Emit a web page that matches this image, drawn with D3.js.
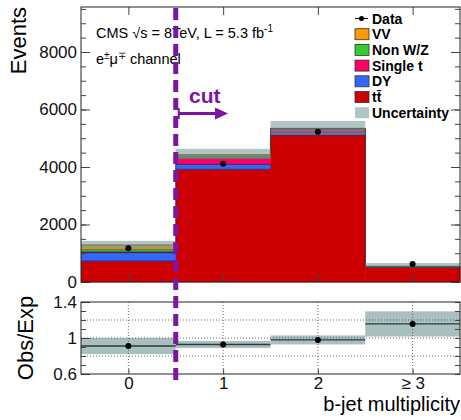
<!DOCTYPE html>
<html>
<head>
<meta charset="utf-8">
<script src="https://cdn.jsdelivr.net/npm/d3@7"></script>
<style>
  body { margin: 0; background: #fff; }
  svg { font-family: "Liberation Sans", Arial, Helvetica, sans-serif; }
</style>
</head>
<body>
<script>
  'use strict';

  // bins and stacked predictions (bottom to top)
  var bins = [0, 1, 2, 3];
  var binLabels = ['0', '1', '2', '\u2265 3'];
  var ttbar = [730, 3920, 5115, 505];
  var dy = [290, 170, 80, 12];
  var singleTop = [25, 220, 120, 22];
  var nonWZ = [75, 70, 20, 4];
  var diboson = [170, 50, 10, 2];
  var dataCounts = [1175, 4110, 5230, 630];
  var uncUp = [140, 200, 255, 115];
  var uncDown = [170, 150, 230, 40];
  var ratioErr = [0.09, 0.04, 0.05, 0.14];

  var yTicksMain = [0, 2000, 4000, 6000, 8000];
  var yTicksRatio = [0.6, 1, 1.4];
  var ratioGrid = [0.8, 1.0, 1.2];

  var layers = [
    {label: 'tt\u0304', values: ttbar, color: '#cc0000'},
    {label: 'DY', values: dy, color: '#3366ff'},
    {label: 'Single t', values: singleTop, color: '#ff0066'},
    {label: 'Non W/Z', values: nonWZ, color: '#33cc33'},
    {label: 'VV', values: diboson, color: '#ff9900'}
  ];

  var W = 461, H = 420;
  var left = 81, right = 460;
  var mainTop = 7, mainBottom = 282;
  var ratioTop = 302, ratioBottom = 374;
  var cutColor = '#7a16a0';
  var bandColor = '#6f9595';

  var svg = d3.select('body').append('svg').attr('width', W).attr('height', H);

  var x = d3.scaleLinear().domain([-0.5, 3.5]).range([left, right]);
  var y = d3.scaleLinear().domain([0, 9565]).range([mainBottom, mainTop]);
  var yr = d3.scaleLinear().domain([0.6, 1.4]).range([ratioBottom, ratioTop]);
  var bw = x(1) - x(0);

  // stack
  var totals = bins.map(function(b) {
    return d3.sum(layers, function(l) { return l.values[b]; });
  });
  var stacked = [];
  bins.forEach(function(b) {
    var base = 0;
    layers.forEach(function(l) {
      stacked.push({bin: b, y0: base, y1: base + l.values[b], color: l.color});
      base += l.values[b];
    });
  });

  var main = svg.append('g');
  // widths rounded up a little so neighbouring bins do not leave a seam
  main.selectAll('rect.stack').data(stacked).enter().append('rect')
    .attr('class', 'stack')
    .attr('x', function(d) { return x(d.bin - 0.5); })
    .attr('width', bw + 0.5)
    .attr('y', function(d) { return y(d.y1); })
    .attr('height', function(d) { return y(d.y0) - y(d.y1) + 0.3; })
    .attr('fill', function(d) { return d.color; });
  // thin edges on top of every layer
  main.selectAll('line.edge').data(stacked).enter().append('line')
    .attr('x1', function(d) { return x(d.bin - 0.5); })
    .attr('x2', function(d) { return x(d.bin + 0.5); })
    .attr('y1', function(d) { return y(d.y1); })
    .attr('y2', function(d) { return y(d.y1); })
    .attr('stroke', '#222').attr('stroke-width', 0.7);
  // outline steps between bins
  main.selectAll('line.step').data(bins.slice(1)).enter().append('line')
    .attr('x1', function(b) { return x(b - 0.5); })
    .attr('x2', function(b) { return x(b - 0.5); })
    .attr('y1', function(b) { return y(totals[b - 1]); })
    .attr('y2', function(b) { return y(totals[b]); })
    .attr('stroke', '#222').attr('stroke-width', 0.8);

  // uncertainty band on top of the stack
  main.selectAll('rect.unc').data(bins).enter().append('rect')
    .attr('class', 'unc')
    .attr('x', function(b) { return x(b - 0.5); })
    .attr('width', bw)
    .attr('y', function(b) { return y(totals[b] + uncUp[b]); })
    .attr('height', function(b) { return y(totals[b] - uncDown[b]) - y(totals[b] + uncUp[b]); })
    .attr('fill', bandColor)
    .attr('fill-opacity', 0.55);

  main.selectAll('circle.data').data(bins).enter().append('circle')
    .attr('cx', function(b) { return x(b); })
    .attr('cy', function(b) { return y(dataCounts[b]); })
    .attr('r', 3)
    .attr('fill', '#000');

  // main frame and ticks (ROOT style, ticks inside)
  var frameMain = svg.append('g');
  frameMain.append('g')
    .attr('transform', 'translate(' + left + ',0)')
    .call(d3.axisLeft(y).tickValues(d3.range(0, 9501, 500)).tickSize(-5).tickFormat(''));
  frameMain.append('g')
    .attr('transform', 'translate(' + left + ',0)')
    .call(d3.axisLeft(y).tickValues(yTicksMain).tickSizeInner(-9).tickSizeOuter(0).tickPadding(4)
      .tickFormat(d3.format('d')));
  frameMain.append('g')
    .attr('transform', 'translate(' + right + ',0)')
    .call(d3.axisRight(y).tickValues(d3.range(0, 9501, 500)).tickSize(-5).tickFormat(''));
  frameMain.append('g')
    .attr('transform', 'translate(' + right + ',0)')
    .call(d3.axisRight(y).tickValues(yTicksMain).tickSize(-9).tickFormat(''));
  frameMain.append('g')
    .attr('transform', 'translate(0,' + mainBottom + ')')
    .call(d3.axisBottom(x).tickValues(bins).tickSize(-8).tickFormat(''));
  frameMain.append('g')
    .attr('transform', 'translate(0,' + mainTop + ')')
    .call(d3.axisTop(x).tickValues(bins).tickSize(-8).tickFormat(''));
  frameMain.append('rect')
    .attr('x', left).attr('y', mainTop)
    .attr('width', right - left).attr('height', mainBottom - mainTop)
    .attr('fill', 'none').attr('stroke', '#222').attr('stroke-width', 1);

  svg.selectAll('.domain').remove();
  svg.selectAll('.tick line').attr('stroke', '#444');
  svg.selectAll('.tick text').attr('font-size', 17).attr('fill', '#111');

  // ratio panel
  var ratio = svg.append('g');
  var ratios = bins.map(function(b) { return dataCounts[b] / totals[b]; });

  ratio.selectAll('rect.rband').data(bins).enter().append('rect')
    .attr('x', function(b) { return x(b - 0.5); })
    .attr('width', bw)
    .attr('y', function(b) { return yr(ratios[b] + ratioErr[b]); })
    .attr('height', function(b) { return yr(ratios[b] - ratioErr[b]) - yr(ratios[b] + ratioErr[b]); })
    .attr('fill', '#a9c0c0');

  ratio.selectAll('line.hgrid').data(ratioGrid).enter().append('line')
    .attr('x1', left).attr('x2', right)
    .attr('y1', function(d) { return yr(d); }).attr('y2', function(d) { return yr(d); })
    .attr('stroke', '#444').attr('stroke-width', 0.8).attr('stroke-dasharray', '1,2');
  ratio.selectAll('line.vgrid').data(bins).enter().append('line')
    .attr('x1', function(b) { return x(b); }).attr('x2', function(b) { return x(b); })
    .attr('y1', ratioTop).attr('y2', ratioBottom)
    .attr('stroke', '#444').attr('stroke-width', 0.8).attr('stroke-dasharray', '1,2');

  ratio.selectAll('line.rval').data(bins).enter().append('line')
    .attr('x1', function(b) { return x(b - 0.5); })
    .attr('x2', function(b) { return x(b + 0.5); })
    .attr('y1', function(b) { return yr(ratios[b]); })
    .attr('y2', function(b) { return yr(ratios[b]); })
    .attr('stroke', '#2f3a3a').attr('stroke-width', 1.3);
  ratio.selectAll('circle.rpt').data(bins).enter().append('circle')
    .attr('cx', function(b) { return x(b); })
    .attr('cy', function(b) { return yr(ratios[b]); })
    .attr('r', 3).attr('fill', '#000');

  var rAxes = svg.append('g');
  rAxes.append('g')
    .attr('transform', 'translate(' + left + ',0)')
    .call(d3.axisLeft(yr).tickValues(d3.range(0.6, 1.41, 0.1)).tickSize(-5).tickFormat(''));
  rAxes.append('g')
    .attr('transform', 'translate(' + left + ',0)')
    .call(d3.axisLeft(yr).tickValues(yTicksRatio).tickSizeInner(-9).tickSizeOuter(0).tickPadding(4)
      .tickFormat(d3.format('')));
  rAxes.append('g')
    .attr('transform', 'translate(' + right + ',0)')
    .call(d3.axisRight(yr).tickValues(d3.range(0.6, 1.41, 0.1)).tickSize(-5).tickFormat(''));
  rAxes.append('g')
    .attr('transform', 'translate(0,' + ratioBottom + ')')
    .call(d3.axisBottom(x).tickValues(bins).tickSizeInner(-5).tickSizeOuter(0).tickPadding(3)
      .tickFormat(function(d, i) { return binLabels[i]; }));
  rAxes.append('rect')
    .attr('x', left).attr('y', ratioTop)
    .attr('width', right - left).attr('height', ratioBottom - ratioTop)
    .attr('fill', 'none').attr('stroke', '#222').attr('stroke-width', 1);

  rAxes.selectAll('.domain').remove();
  rAxes.selectAll('.tick line').attr('stroke', '#444');
  rAxes.selectAll('.tick text').attr('font-size', 17).attr('fill', '#111');

  // axis titles
  svg.append('text')
    .attr('transform', 'translate(26,' + mainTop + ') rotate(-90)')
    .attr('text-anchor', 'end')
    .attr('font-size', 22)
    .text('Events');
  svg.append('text')
    .attr('transform', 'translate(33,' + ((ratioTop + ratioBottom) / 2) + ') rotate(-90)')
    .attr('text-anchor', 'middle')
    .attr('font-size', 22)
    .text('Obs/Exp');
  svg.append('text')
    .attr('x', right).attr('y', 411)
    .attr('text-anchor', 'end')
    .attr('font-size', 20)
    .text('b-jet multiplicity');

  // CMS label
  var cms = svg.append('text')
    .attr('x', 96).attr('y', 38)
    .attr('font-size', 14.5);
  cms.append('tspan').text('CMS \u221As = 8TeV, L = 5.3 fb');
  cms.append('tspan').attr('font-size', 10).attr('dy', -6).text('-1');
  var chan = svg.append('text')
    .attr('x', 96).attr('y', 64)
    .attr('font-size', 14.5);
  chan.append('tspan').text('e');
  chan.append('tspan').attr('font-size', 10).attr('dy', -5).text('\u00B1');
  chan.append('tspan').attr('dy', 5).text('\u03BC');
  chan.append('tspan').attr('font-size', 10).attr('dy', -5).text('\u2213');
  chan.append('tspan').attr('dy', 5).text(' channel');

  // legend
  var legendItems = [
    {label: 'VV', color: '#ff9900'},
    {label: 'Non W/Z', color: '#33cc33'},
    {label: 'Single t', color: '#ff0066'},
    {label: 'DY', color: '#3366ff'},
    {label: 'tt\u0304', color: '#cc0000'},
    {label: 'Uncertainty', color: '#b0c5c5', noStroke: true}
  ];
  var legend = svg.append('g').attr('font-size', 14).attr('font-weight', 'bold');
  legend.append('line')
    .attr('x1', 355).attr('x2', 368).attr('y1', 18.5).attr('y2', 18.5)
    .attr('stroke', '#000').attr('stroke-width', 1);
  legend.append('circle').attr('cx', 361.5).attr('cy', 18.5).attr('r', 2.5).attr('fill', '#000');
  legend.append('text').attr('x', 372).attr('y', 23.5).text('Data');
  legendItems.forEach(function(d, i) {
    var cy = 34.2 + i * 15.7;
    legend.append('rect')
      .attr('x', 355).attr('y', cy - 5.5)
      .attr('width', 14).attr('height', 11)
      .attr('fill', d.color)
      .attr('stroke', d.noStroke ? 'none' : '#333')
      .attr('stroke-width', 0.8);
    legend.append('text').attr('x', 372).attr('y', cy + 5).text(d.label);
  });

  // cut marker
  var cutX = x(0.5);
  svg.append('line')
    .attr('x1', cutX).attr('x2', cutX)
    .attr('y1', mainTop + 1).attr('y2', 382)
    .attr('stroke', cutColor).attr('stroke-width', 5)
    .attr('stroke-dasharray', '12,6');
  svg.append('text')
    .attr('x', 189).attr('y', 103)
    .attr('font-size', 21).attr('font-weight', 'bold')
    .attr('fill', cutColor)
    .text('cut');
  svg.append('line')
    .attr('x1', cutX + 3).attr('x2', cutX + 3)
    .attr('y1', 108).attr('y2', 119)
    .attr('stroke', cutColor).attr('stroke-width', 2);
  svg.append('line')
    .attr('x1', cutX + 3).attr('x2', 217)
    .attr('y1', 113.5).attr('y2', 113.5)
    .attr('stroke', cutColor).attr('stroke-width', 3);
  svg.append('path')
    .attr('d', 'M215,107.5 L228,113.5 L215,119.5 Z')
    .attr('fill', cutColor);
</script>
</body>
</html>
